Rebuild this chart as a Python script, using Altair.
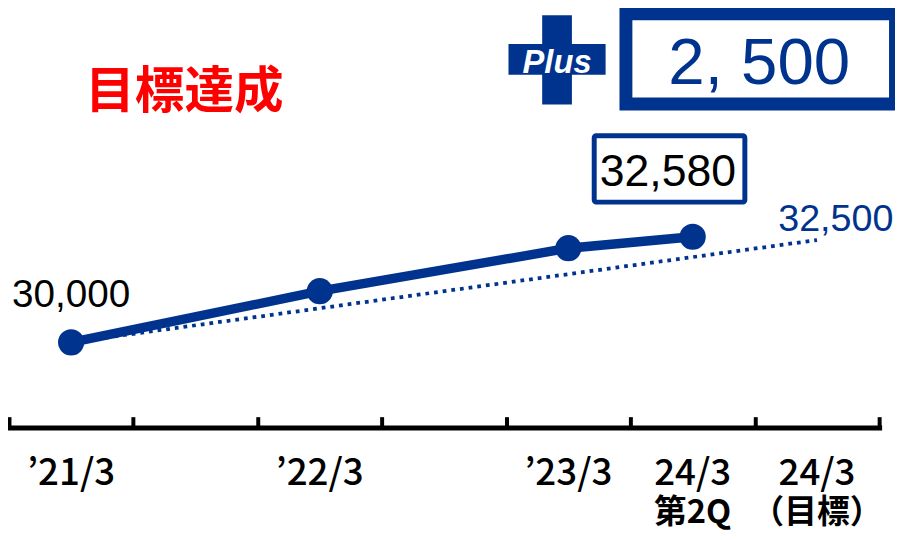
import altair as alt
import pandas as pd

BLUE = "#00338D"
RED = "#FF0000"

# ---- data ----
periods = ["'21/3", "'22/3", "'23/3", "24/3 第2Q"]
slots = [0.5, 2.5, 4.5, 5.5]
actual = [30000, 31250, 32300, 32580]

target_period = "24/3（目標）"
target_slot = 6.5
target_value = 32500

label_line1 = ["’21/3", "’22/3", "’23/3", "24/3", "24/3"]
label_line2 = ["", "", "", "第2Q", "（目標）"]
label_slots = [0.5, 2.5, 4.5, 5.5, 6.5]
axis_ticks = [0, 1, 2, 3, 4, 5, 6, 7]

value_labels = ["30,000", "32,580", "32,500"]
increase_label = "2, 500"
achieved_label = "目標達成"

# ---- layout ----
W, H = 878, 421
x_scale = alt.Scale(domain=[0, 7], nice=False, zero=False)
y_scale = alt.Scale(domain=[27918, 38112], nice=False, zero=False)
x_axis = alt.Axis(orient="top", offset=-H, values=axis_ticks, labels=False, title=None,
                  grid=False, domainColor="black", domainWidth=5, tickColor="black",
                  tickWidth=4, tickSize=11, domainCap="square")

def X(field):
    return alt.X(field, type="quantitative", scale=x_scale, axis=x_axis)

def Y(field):
    return alt.Y(field, type="quantitative", scale=y_scale, axis=None)

actual_df = pd.DataFrame({"period": periods, "slot": slots, "value": actual})
target_df = pd.DataFrame({"slot": [slots[0], target_slot], "value": [actual[0], target_value]})
labels_df = pd.DataFrame({"slot": label_slots, "l1": label_line1, "l2": label_line2})
one = pd.DataFrame({"a": [0]})

dotted = alt.Chart(target_df).mark_line(color=BLUE, strokeWidth=3.8, strokeDash=[3.8, 5]).encode(
    x=X("slot"), y=Y("value"))
solid = alt.Chart(actual_df).mark_line(color=BLUE, strokeWidth=9.5).encode(x=X("slot"), y=Y("value"))
pts = alt.Chart(actual_df).mark_circle(color=BLUE, size=700, opacity=1).encode(x=X("slot"), y=Y("value"))

lab1 = alt.Chart(labels_df).mark_text(font="Noto Sans CJK JP", fontWeight=500, fontSize=37,
                                      baseline="alphabetic", color="black").encode(
    x=X("slot"), y=alt.value(479), text="l1:N")
lab2 = alt.Chart(labels_df).mark_text(font="Noto Sans CJK JP", fontWeight="bold", fontSize=33,
                                      baseline="alphabetic", color="black").encode(
    x=X("slot"), y=alt.value(517), text="l2:N")

SANS = "Liberation Sans, Arial"
t_start = alt.Chart(pd.DataFrame({"slot": [slots[0]], "value": [actual[0]], "t": [value_labels[0]]})).mark_text(
    font=SANS, fontSize=39, baseline="alphabetic", dy=-36, color="black").encode(
    x=X("slot"), y=Y("value"), text="t:N")

box_last = alt.Chart(one).mark_rect(fill="white", stroke=BLUE, strokeWidth=5, cornerRadius=2).encode(
    x=alt.value(590.5), x2=alt.value(742.5), y=alt.value(126.5), y2=alt.value(193.5))
t_last = alt.Chart(pd.DataFrame({"slot": [slots[-1]], "value": [actual[-1]], "t": [value_labels[1]]})).mark_text(
    font=SANS, fontSize=45, baseline="alphabetic", dx=-25, dy=-51, color="black").encode(
    x=X("slot"), y=Y("value"), text="t:N")
t_target = alt.Chart(pd.DataFrame({"slot": [target_slot], "value": [target_value], "t": [value_labels[2]]})).mark_text(
    font=SANS, fontSize=38, baseline="alphabetic", dx=19, dy=-9, color=BLUE).encode(
    x=X("slot"), y=Y("value"), text="t:N")

big_box = alt.Chart(one).mark_rect(fill="white", stroke=BLUE, strokeWidth=13).encode(
    x=alt.value(622.5), x2=alt.value(894.5), y=alt.value(3.5), y2=alt.value(94.5))
big_text = alt.Chart(one).mark_text(font=SANS, fontSize=66, baseline="alphabetic",
                                    color=BLUE).encode(x=alt.value(757), y=alt.value(74),
                                                        text=alt.value(increase_label))
cross_v = alt.Chart(one).mark_rect(fill=BLUE).encode(
    x=alt.value(538), x2=alt.value(568), y=alt.value(5), y2=alt.value(95))
cross_h = alt.Chart(one).mark_rect(fill=BLUE).encode(
    x=alt.value(504), x2=alt.value(602), y=alt.value(34), y2=alt.value(65))
plus_text = alt.Chart(one).mark_text(font=SANS, fontSize=33, fontWeight="bold",
                                     fontStyle="italic", baseline="alphabetic", color="white").encode(
    x=alt.value(553), y=alt.value(63), text=alt.value("Plus"))
achieved = alt.Chart(one).mark_text(font="Noto Sans CJK JP", fontSize=50, fontWeight="bold",
                                    baseline="middle", color=RED).encode(
    x=alt.value(177), y=alt.value(84), text=alt.value(achieved_label))

chart = alt.layer(
    dotted, solid, pts, lab1, lab2, t_start, box_last, t_last, t_target,
    big_box, big_text, cross_v, cross_h, plus_text, achieved
).properties(
    width=W, height=H,
    autosize=alt.AutoSizeParams(type="none"),
    padding={"left": 1, "top": 0, "right": 16, "bottom": 101},
).configure_view(stroke=None)

chart.save("out.html", embed_options={"renderer": "svg", "actions": False})
